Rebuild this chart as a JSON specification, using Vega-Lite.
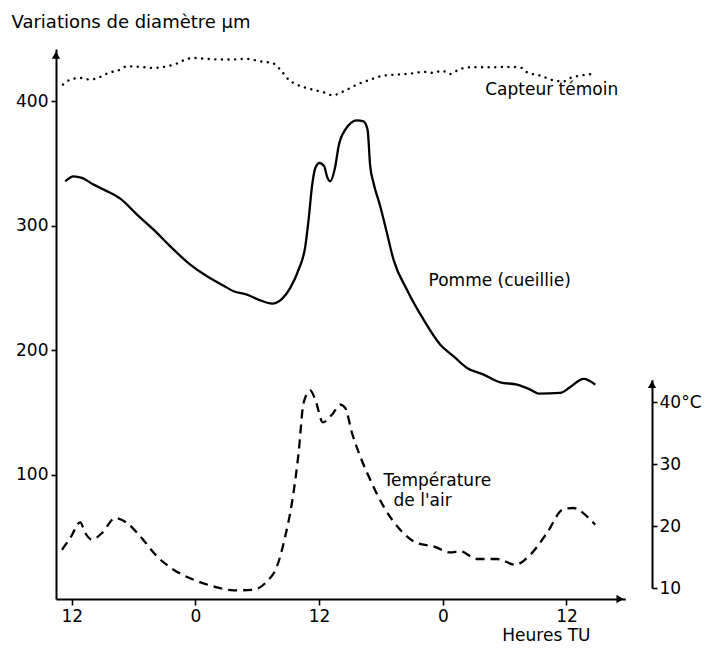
{
  "$schema": "https://vega.github.io/schema/vega-lite/v6.json",
  "width": 596,
  "height": 550,
  "autosize": {"type": "none"},
  "padding": {"left": 56, "top": 49, "right": 52, "bottom": 50},
  "background": "white",
  "config": {
    "view": {"stroke": null},
    "font": "DejaVu Sans",
    "axis": {
      "grid": false,
      "domainColor": "black",
      "domainWidth": 2,
      "tickColor": "black",
      "tickWidth": 1.6,
      "labelColor": "black",
      "labelFont": "DejaVu Sans",
      "labelFontSize": 17,
      "titleFont": "DejaVu Sans",
      "titleFontSize": 17,
      "titleFontWeight": "normal",
      "titleColor": "black"
    }
  },
  "datasets": {
    "capteur": [
      {"t": 11.15, "v": 413.4}, {"t": 12.02, "v": 417.9}, {"t": 12.82, "v": 418.7}, {"t": 13.79, "v": 417.4},
      {"t": 14.77, "v": 419.6}, {"t": 15.57, "v": 422.8}, {"t": 16.54, "v": 424.9}, {"t": 17.36, "v": 428.1},
      {"t": 18.65, "v": 427.6}, {"t": 19.94, "v": 426.8}, {"t": 21.24, "v": 428.1}, {"t": 22.21, "v": 430.3},
      {"t": 23.01, "v": 433.5}, {"t": 23.82, "v": 434.8}, {"t": 25.12, "v": 434.0}, {"t": 27.06, "v": 433.5},
      {"t": 29.0, "v": 434.0}, {"t": 30.29, "v": 432.1}, {"t": 31.58, "v": 430.3}, {"t": 32.23, "v": 425.4},
      {"t": 33.04, "v": 417.4}, {"t": 33.85, "v": 413.4}, {"t": 35.14, "v": 409.9}, {"t": 36.43, "v": 407.2},
      {"t": 37.3, "v": 404.8}, {"t": 38.37, "v": 408.0}, {"t": 39.67, "v": 413.4}, {"t": 40.96, "v": 417.4},
      {"t": 42.25, "v": 420.6}, {"t": 43.55, "v": 421.4}, {"t": 44.84, "v": 422.2}, {"t": 46.14, "v": 423.6},
      {"t": 47.11, "v": 422.8}, {"t": 47.92, "v": 424.6}, {"t": 48.73, "v": 421.9}, {"t": 49.53, "v": 425.4},
      {"t": 50.67, "v": 427.3}, {"t": 52.61, "v": 427.3}, {"t": 54.55, "v": 427.6}, {"t": 55.68, "v": 426.8},
      {"t": 56.17, "v": 423.3}, {"t": 57.46, "v": 420.6}, {"t": 58.75, "v": 416.8}, {"t": 59.72, "v": 416.0},
      {"t": 60.37, "v": 418.7}, {"t": 61.34, "v": 420.6}, {"t": 62.63, "v": 422.0}
    ],
    "pomme": [
      {"t": 11.37, "v": 335.7}, {"t": 12.17, "v": 339.7}, {"t": 12.99, "v": 338.4}, {"t": 14.12, "v": 333.0},
      {"t": 15.25, "v": 328.4}, {"t": 16.71, "v": 321.7}, {"t": 18.33, "v": 308.9}, {"t": 19.94, "v": 296.8},
      {"t": 21.56, "v": 283.4}, {"t": 23.5, "v": 268.7}, {"t": 25.12, "v": 259.3}, {"t": 26.73, "v": 251.8},
      {"t": 27.7, "v": 247.3}, {"t": 29.0, "v": 244.6}, {"t": 30.29, "v": 240.0}, {"t": 31.43, "v": 237.4},
      {"t": 32.4, "v": 241.2}, {"t": 33.2, "v": 250.0}, {"t": 34.01, "v": 264.7}, {"t": 34.66, "v": 283.4},
      {"t": 34.98, "v": 304.9}, {"t": 35.31, "v": 331.6}, {"t": 35.63, "v": 346.4}, {"t": 36.04, "v": 350.4},
      {"t": 36.5, "v": 347.7}, {"t": 36.76, "v": 339.7}, {"t": 37.08, "v": 335.7}, {"t": 37.57, "v": 347.7},
      {"t": 37.89, "v": 363.8}, {"t": 38.54, "v": 377.2}, {"t": 39.67, "v": 384.7}, {"t": 40.31, "v": 383.9},
      {"t": 40.7, "v": 377.2}, {"t": 40.96, "v": 347.7}, {"t": 41.28, "v": 334.4}, {"t": 41.93, "v": 315.6},
      {"t": 42.58, "v": 294.2}, {"t": 43.22, "v": 272.7}, {"t": 44.52, "v": 248.6}, {"t": 46.14, "v": 224.5},
      {"t": 47.76, "v": 204.4}, {"t": 49.05, "v": 195.0}, {"t": 50.35, "v": 185.7}, {"t": 51.96, "v": 180.3},
      {"t": 53.58, "v": 174.1}, {"t": 55.2, "v": 172.3}, {"t": 56.49, "v": 168.3}, {"t": 57.29, "v": 165.1},
      {"t": 59.4, "v": 165.6}, {"t": 60.37, "v": 170.4}, {"t": 61.66, "v": 176.9}, {"t": 62.8, "v": 172.3}
    ],
    "temperature": [
      {"t": 11.05, "T": 16.19}, {"t": 11.85, "T": 18.08}, {"t": 12.82, "T": 20.6}, {"t": 13.31, "T": 18.89},
      {"t": 13.96, "T": 17.81}, {"t": 14.93, "T": 18.89}, {"t": 16.22, "T": 21.31}, {"t": 17.36, "T": 20.51},
      {"t": 18.65, "T": 18.34}, {"t": 20.27, "T": 15.11}, {"t": 21.88, "T": 12.96}, {"t": 23.82, "T": 11.34},
      {"t": 25.76, "T": 10.26}, {"t": 27.7, "T": 9.61}, {"t": 29.64, "T": 9.73}, {"t": 30.94, "T": 11.07},
      {"t": 31.91, "T": 13.49}, {"t": 32.71, "T": 18.34}, {"t": 33.36, "T": 23.74}, {"t": 34.01, "T": 31.82},
      {"t": 34.49, "T": 39.9}, {"t": 35.14, "T": 41.94}, {"t": 35.63, "T": 40.43}, {"t": 36.37, "T": 36.77},
      {"t": 37.24, "T": 38.01}, {"t": 38.05, "T": 39.63}, {"t": 38.54, "T": 39.09}, {"t": 39.19, "T": 35.05},
      {"t": 39.99, "T": 31.27}, {"t": 40.96, "T": 27.5}, {"t": 42.25, "T": 23.19}, {"t": 43.87, "T": 19.42},
      {"t": 45.49, "T": 17.27}, {"t": 47.11, "T": 16.72}, {"t": 48.73, "T": 15.75}, {"t": 49.7, "T": 15.92},
      {"t": 51.32, "T": 14.69}, {"t": 53.26, "T": 14.69}, {"t": 55.03, "T": 13.77}, {"t": 56.49, "T": 15.38},
      {"t": 58.11, "T": 18.89}, {"t": 59.72, "T": 22.77}, {"t": 60.69, "T": 22.93}, {"t": 61.99, "T": 21.57},
      {"t": 62.8, "T": 20.23}
    ],
    "labels": [
      {"t": 52.12, "v": 409.4, "label": "Capteur témoin"},
      {"t": 46.62, "v": 255.9, "label": "Pomme (cueillie)"},
      {"t": 42.25, "v": 94.6, "label": "Température"},
      {"t": 43.22, "v": 78.5, "label": "de l'air"}
    ],
    "arrowLeft": [{"t": 10.47, "v": 437}],
    "arrowBottom": [{"t": 65.2, "v": 0}],
    "arrowRight": [{"t": 68.3, "T": 42.9}]
  },
  "encoding": {
    "x": {
      "field": "t",
      "type": "quantitative",
      "scale": {"domain": [10.47, 65.71], "range": [0, 569.3], "nice": false, "zero": false},
      "axis": {
        "values": [12, 24, 36, 48, 60],
        "labelExpr": "datum.value % 24 == 0 ? '0' : '12'",
        "tickSize": 6,
        "labelPadding": 3,
        "title": "Heures TU",
        "titleX": 534,
        "titleY": 36,
        "titleAlign": "right",
        "titleBaseline": "middle"
      }
    }
  },
  "layer": [
    {
      "encoding": {
        "y": {
          "field": "v",
          "type": "quantitative",
          "scale": {"domain": [0, 442], "nice": false, "zero": false},
          "axis": {
            "values": [100, 200, 300, 400],
            "tickSize": 5,
            "labelPadding": 3,
            "title": "Variations de diamètre μm",
            "titleFontSize": 18,
            "titleAngle": 0,
            "titleAlign": "left",
            "titleBaseline": "middle",
            "titleX": -45,
            "titleY": -27
          }
        }
      },
      "layer": [
        {
          "data": {"name": "capteur"},
          "mark": {"type": "line", "interpolate": "monotone", "color": "black", "strokeWidth": 2.4, "strokeDash": [0.1, 6.5], "strokeCap": "round"}
        },
        {
          "data": {"name": "pomme"},
          "mark": {"type": "line", "interpolate": "monotone", "color": "black", "strokeWidth": 2.3}
        },
        {
          "data": {"name": "labels"},
          "mark": {"type": "text", "align": "left", "baseline": "middle", "font": "DejaVu Sans", "fontSize": 17, "color": "black"},
          "encoding": {"text": {"field": "label"}}
        },
        {
          "data": {"name": "arrowLeft"},
          "mark": {"type": "point", "shape": "triangle-up", "filled": true, "color": "black", "size": 70, "opacity": 1}
        },
        {
          "data": {"name": "arrowBottom"},
          "mark": {"type": "point", "shape": "triangle-right", "filled": true, "color": "black", "size": 70, "opacity": 1}
        }
      ]
    },
    {
      "encoding": {
        "y": {
          "field": "T",
          "type": "quantitative",
          "scale": {"domain": [10, 43.67], "range": [539, 330.7], "nice": false, "zero": false},
          "axis": {
            "orient": "right",
            "values": [10, 20, 30, 40],
            "labelExpr": "datum.value == 40 ? '40°C' : datum.label",
            "tickSize": 5,
            "labelPadding": 2,
            "title": null
          }
        }
      },
      "layer": [
        {
          "data": {"name": "temperature"},
          "mark": {"type": "line", "interpolate": "monotone", "color": "black", "strokeWidth": 2.3, "strokeDash": [9, 6]}
        },
        {
          "data": {"name": "arrowRight"},
          "mark": {"type": "point", "shape": "triangle-up", "filled": true, "color": "black", "size": 70, "opacity": 1}
        }
      ]
    }
  ],
  "resolve": {"scale": {"y": "independent"}}
}
